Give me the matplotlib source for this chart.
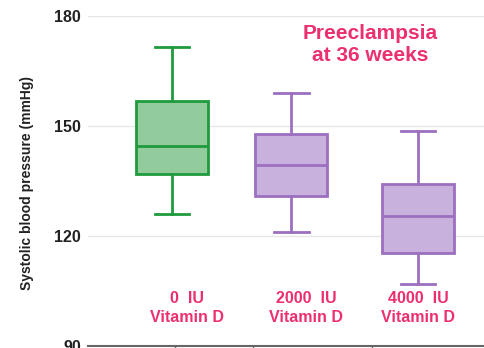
import matplotlib
matplotlib.use("Agg")
import matplotlib.pyplot as plt

plt.rcParams['font.family'] = ['Liberation Sans', 'DejaVu Sans']

categories = ["0  IU\nVitamin D", "2000  IU\nVitamin D", "4000  IU\nVitamin D"]
whisker_low = [125.9, 121.0, 106.9]
q1 = [137.0, 131.0, 115.4]
median = [144.6, 139.3, 125.5]
q3 = [156.8, 147.8, 134.3]
whisker_high = [171.5, 158.9, 148.7]
yticks = [90, 120, 150, 180]
title = "Preeclampsia\nat 36 weeks"
ylabel = "Systolic blood pressure (mmHg)"

edge_colors = ["#1f9a3c", "#9c6fc0", "#9c6fc0"]
face_colors = ["#93cc9c", "#c8b1dc", "#c8b1dc"]
pink = "#ec2f6e"

fig = plt.figure(figsize=(4.85, 3.48), dpi=100)
ax = fig.add_axes([88/485, 2/348, 1 - 88/485, 330/348])

positions = [0, 0.97, 2]
stats = []
for i in range(len(categories)):
    stats.append(dict(whislo=whisker_low[i], q1=q1[i], med=median[i],
                      q3=q3[i], whishi=whisker_high[i], fliers=[]))
bp = ax.bxp(stats, positions=positions, widths=0.585, patch_artist=True,
            showfliers=False, capwidths=0.28)
for i in range(len(categories)):
    ec = edge_colors[i]
    bp['boxes'][i].set(facecolor=face_colors[i], edgecolor=ec, linewidth=2)
    bp['medians'][i].set(color=ec, linewidth=2)
    for w in bp['whiskers'][2*i:2*i+2]:
        w.set(color=ec, linewidth=2)
    for c in bp['caps'][2*i:2*i+2]:
        c.set(color=ec, linewidth=2)

ax.set_xlim(-0.683, 2.545)
ax.set_ylim(90, 180)
ax.set_yticks(yticks)
ax.set_yticklabels([str(t) for t in yticks], fontsize=11.5, fontweight='bold', color='#222222')
ax.tick_params(axis='y', length=0, pad=5)
ax.grid(axis='y', color='#e6e6e6', linewidth=1)
ax.set_axisbelow(True)
for s in ['left', 'right', 'top']:
    ax.spines[s].set_visible(False)
ax.spines['bottom'].set_color('#666666')
ax.spines['bottom'].set_linewidth(1.5)
ax.set_xticks([0.024, 0.66, 1.63])
ax.set_xticklabels([])
ax.tick_params(axis='x', length=4, color='#666666', width=1)

label_x = [0.12, 1.09, 2.0]
for lx, lab in zip(label_x, categories):
    ax.text(lx, 100.4, lab, ha='center', va='center', color=pink,
            fontsize=11.5, fontweight='bold', linespacing=1.3)

ax.text(1.61, 172.1, title, ha='center', va='center', color=pink,
        fontsize=15, fontweight='bold', linespacing=1.2)

fig.text(27/485, 0.474, ylabel, rotation=90, ha='center', va='center',
         fontsize=10, fontweight='bold', color='#222222')

fig.savefig("out.png", dpi=100)
